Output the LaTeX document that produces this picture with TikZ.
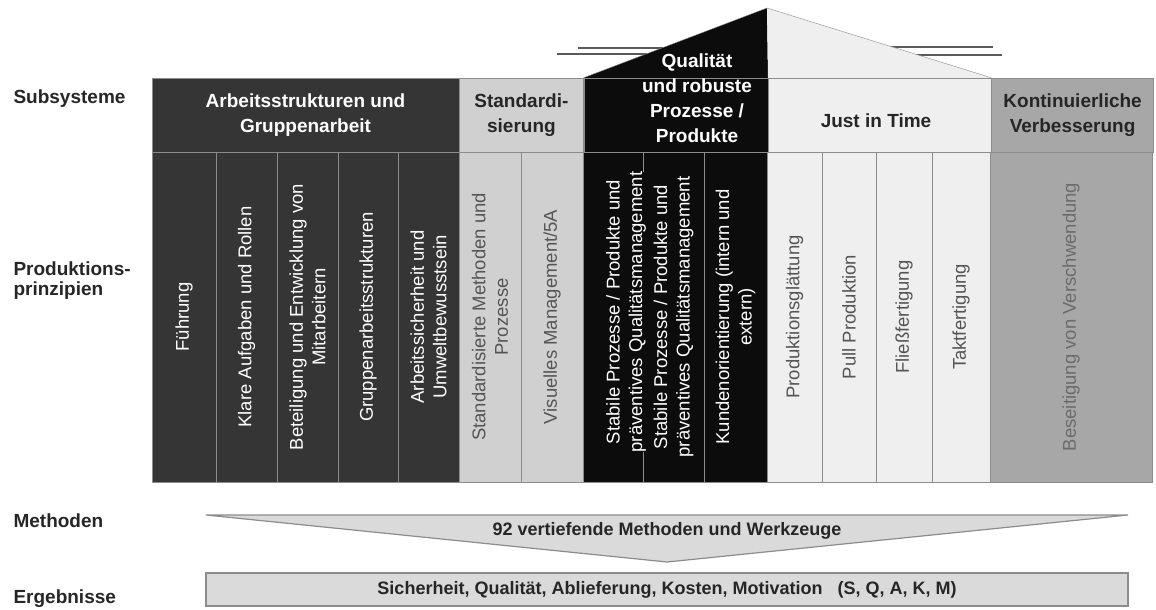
\documentclass[tikz,border=0pt]{standalone}
\usepackage{fontspec}
\setmainfont{Liberation Sans}
\usetikzlibrary{positioning}
\definecolor{arbc}{HTML}{353535}
\definecolor{stdc}{HTML}{D0D0D0}
\definecolor{qualc}{HTML}{0C0C0C}
\definecolor{jitc}{HTML}{EFEFEF}
\definecolor{kvc}{HTML}{A7A7A7}
\definecolor{linec}{HTML}{8C8C8C}
\definecolor{boxc}{HTML}{DADADA}
\definecolor{greytxt}{HTML}{555555}
\definecolor{darktxt}{HTML}{262626}
\newcommand{\hfont}{\fontsize{19}{25}\selectfont\bfseries}
\newcommand{\cfont}{\fontsize{18.5}{22.5}\selectfont}

\begin{document}
\begin{tikzpicture}[x=1pt,y=-1pt,node distance=0pt,
    lbl/.style={anchor=west,align=left,font=\hfont,text=darktxt},
    hdr/.style={draw=linec,minimum height=74pt,inner sep=0pt,align=center,font=\hfont},
    col/.style={draw=linec,rotate=90,minimum width=330pt,inner sep=0pt,align=center,font=\cfont},
    roofline/.style={draw=black!65,line width=1.4pt}]
  \useasboundingbox (0,0) rectangle (1156,610);

  % labels left
  \node[lbl] (subsys) at (10,99) {Subsysteme};
  \node[lbl,font=\fontsize{19}{20}\selectfont\bfseries] (prinz) at (10,281) {Produktions-\\prinzipien};
  \node[lbl] (meth) at (10,521) {Methoden};
  \node[lbl] (erg) at (10,599) {Ergebnisse};

  % lines at the roof
  \draw[roofline] (578,48) -- (663,48);
  \draw[roofline] (557,54) -- (647,54);
  \draw[roofline] (890,47) -- (993,47);
  \draw[roofline] (915,55) -- (1002,55);

  % subsystems
  \node[hdr,fill=arbc,text=white,minimum width=307pt] (arbeit) at (305.5,115) {Arbeitsstrukturen und\\Gruppenarbeit};
  \node[hdr,fill=stdc,text=darktxt,minimum width=124pt,right=of arbeit] (std) {Standardi-\\sierung};
  \node[hdr,fill=qualc,minimum width=184pt,right=of std] (qual) {};
  \node[hdr,fill=jitc,text=darktxt,minimum width=223pt,right=of qual] (jit) {};
  \node[hdr,fill=kvc,text=darktxt,minimum width=162pt,right=of jit] (kv) {Kontinuierliche\\Verbesserung};

  % roof
  \coordinate (apex) at (767,8);
  \fill[qualc] (qual.north west) -- (apex) -- (qual.north east) -- cycle;
  \fill[jitc] (jit.north west) -- (apex) -- (jit.north east) -- cycle;
  \draw[linec] (qual.north west) -- (apex) -- (jit.north east);
  \node[font=\hfont,align=center,text=white] (qualtxt) at (697,98) {Qualität\\und robuste\\Prozesse /\\Produkte};
  \node[font=\hfont,text=darktxt] (jittxt) at (876,121) {Just in Time};

  % principles
  \node[col,fill=arbc,text=white,minimum height=64pt] (c1) at (184,317) {Führung};
  \node[col,fill=arbc,text=white,minimum height=61pt] (c2) at (246.5,317) {Klare Aufgaben und Rollen};
  \node[col,fill=arbc,text=white,minimum height=61pt] (c3) at (307.5,317) {Beteiligung und Entwicklung von\\Mitarbeitern};
  \node[col,fill=arbc,text=white,minimum height=60pt] (c4) at (368,317) {Gruppenarbeitsstrukturen};
  \node[col,fill=arbc,text=white,minimum height=61pt] (c5) at (428.5,317) {Arbeitssicherheit und\\Umweltbewusstsein};
  \node[col,fill=stdc,text=greytxt,minimum height=62pt] (c6) at (490,317) {Standardisierte Methoden und\\Prozesse};
  \node[col,fill=stdc,text=greytxt,minimum height=62pt] (c7) at (552,317) {Visuelles Management/5A};
  \node[col,fill=qualc,minimum height=60pt] (c8) at (613,317) {};
  \node[col,fill=qualc,text=white,minimum height=61pt] (c9) at (673.5,317) {Stabile Prozesse / Produkte und\\präventives Qualitätsmanagement};
  \node[col,fill=qualc,text=white,minimum height=63pt] (c10) at (735.5,317) {Kundenorientierung (intern und\\extern)};
  \node[col,fill=jitc,text=greytxt,minimum height=55pt] (c11) at (794.5,317) {Produktionsglättung};
  \node[col,fill=jitc,text=greytxt,minimum height=54pt] (c12) at (849,317) {Pull Produktion};
  \node[col,fill=jitc,text=greytxt,minimum height=56pt] (c13) at (904,317) {Fließfertigung};
  \node[col,fill=jitc,text=greytxt,minimum height=58pt] (c14) at (961,317) {Taktfertigung};
  \node[col,fill=kvc,text=black!58,minimum height=162pt] (c15) at (1071,317) {Beseitigung von Verschwendung};
  \node[rotate=90,fill=qualc,text=white,inner sep=0pt,align=center,font=\cfont] (c8t) at (626,312) {Stabile Prozesse / Produkte und\\präventives Qualitätsmanagement};

  % methods and results
  \coordinate (al) at (206,515);
  \coordinate (ar) at (1128,515);
  \coordinate (tip) at (667,562);
  \filldraw[fill=boxc,draw=black!45,line width=1.2pt] (al) -- (ar) -- (tip) -- cycle;
  \node[font=\fontsize{18}{20}\selectfont\bfseries,text=darktxt] (werk) at (667,531) {92 vertiefende Methoden und Werkzeuge};
  \node[draw=black!45,line width=1.2pt,fill=boxc,minimum width=922pt,minimum height=33pt,inner sep=0pt,
    font=\fontsize{18}{20}\selectfont\bfseries,text=darktxt] (res) at (667,589.5)
    {Sicherheit, Qualität, Ablieferung, Kosten, Motivation \ \ (S, Q, A, K, M)};
\end{tikzpicture}
\end{document}
